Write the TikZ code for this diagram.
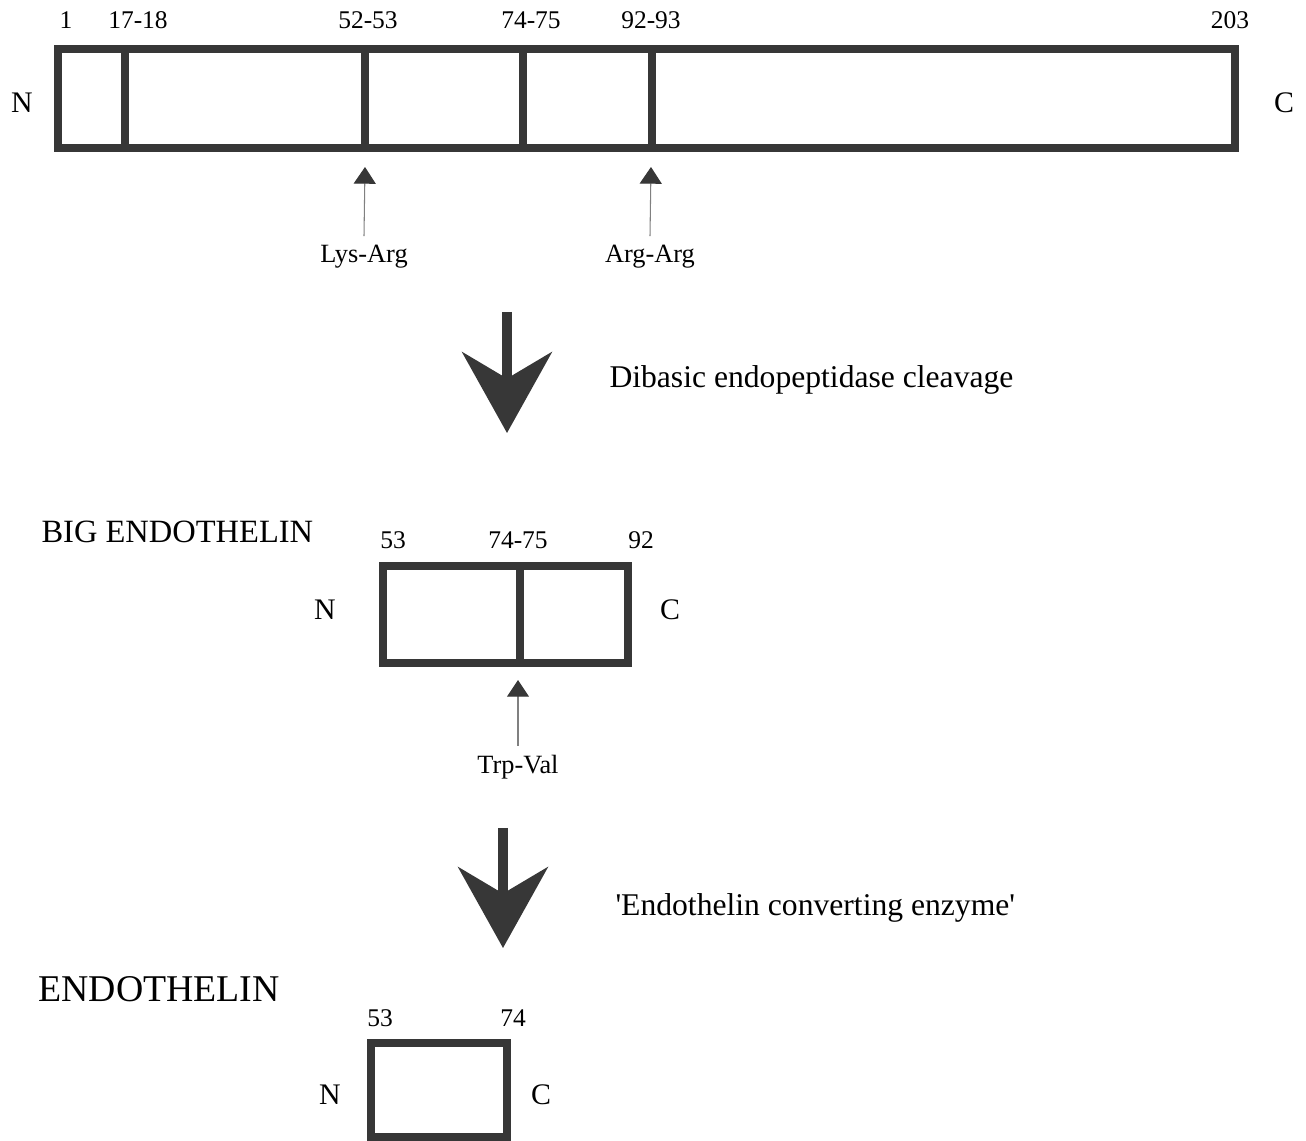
\documentclass[tikz,border=0pt]{standalone}
\usepackage{fontspec}
\setmainfont{Liberation Serif}
\usetikzlibrary{arrows.meta}
\definecolor{barcol}{RGB}{55,55,55}

\begin{document}
\begin{tikzpicture}[x=0.02cm,y=-0.02cm,line width=4pt,
  bar/.style={draw=barcol,line width=4pt},
  num/.style={font=\fontsize{14.5}{17}\selectfont},
  site/.style={font=\fontsize{15}{18}\selectfont},
  tip/.style={font=\fontsize{17}{20}\selectfont},
  step name/.style={font=\fontsize{18}{21}\selectfont,anchor=west,inner sep=0pt},
  cut/.style={draw=gray,line width=0.6pt,-{Triangle[width=12.5pt,length=9.5pt,color=barcol,fill=barcol]}},
  bigarrow/.style={draw=barcol,line width=5.3pt,-{Stealth[length=46pt,width=51pt,inset=15pt,color=barcol,fill=barcol]}}]
\path[use as bounding box] (0,0) rectangle (1306,1141);
% precursor
\draw[bar] (58,49) rectangle (1235,148);
\foreach \x in {125,365,523,652} {\draw[bar] (\x,49)--(\x,148);}
\foreach \x/\t [count=\i] in {66/1,138/17-18,368/52-53,531/74-75,651/92-93,1230/203} {\node[num] (p\i) at (\x,20) {\t};}
\node[tip] (pN) at (22,103) {N}; \node[tip] (pC) at (1284,103) {C};
\coordinate (k1) at (365,167); \coordinate (k2) at (651,167);
\node[site] (lys) at (364,257) {Lys-Arg};
\node[site] (arg) at (650,257) {Arg-Arg};
\draw[cut] (lys.north) -- (k1); \draw[cut] (arg.north) -- (k2);
% first step
\coordinate (s1) at (507,312); \coordinate (e1) at (507,433);
\draw[bigarrow] (s1) -- (e1);
\node[step name] (dib) at (606,380) {Dibasic endopeptidase cleavage};
% big endothelin
\node[anchor=west,inner sep=0pt,font=\fontsize{18.5}{22}\selectfont] (bigET) at (38,532) {BIG ENDOTHELIN};
\draw[bar] (383,566) rectangle (628,663);
\draw[bar] (520,566)--(520,663);
\foreach \x/\t [count=\i] in {393/53,518/74-75,641/92} {\node[num] (b\i) at (\x,540) {\t};}
\node[tip] (bN) at (325,610) {N}; \node[tip] (bC) at (670,610) {C};
\coordinate (k3) at (518,680);
\node[site] (trp) at (518,767) {Trp-Val};
\draw[cut] (trp.north) -- (k3);
% second step
\coordinate (s2) at (503,828); \coordinate (e2) at (503,948);
\draw[bigarrow] (s2) -- (e2);
\node[step name] (ece) at (612,908) {\textquotesingle Endothelin converting enzyme\textquotesingle};
% endothelin
\node[anchor=west,inner sep=0pt,font=\fontsize{21.5}{25}\selectfont] (ET) at (35,989) {ENDOTHELIN};
\draw[bar] (371,1043) rectangle (507,1137);
\node[num] (e53) at (380,1018) {53}; \node[num] (e74) at (513,1018) {74};
\node[tip] (eN) at (330,1095) {N}; \node[tip] (eC) at (541,1095) {C};
\end{tikzpicture}
\end{document}
